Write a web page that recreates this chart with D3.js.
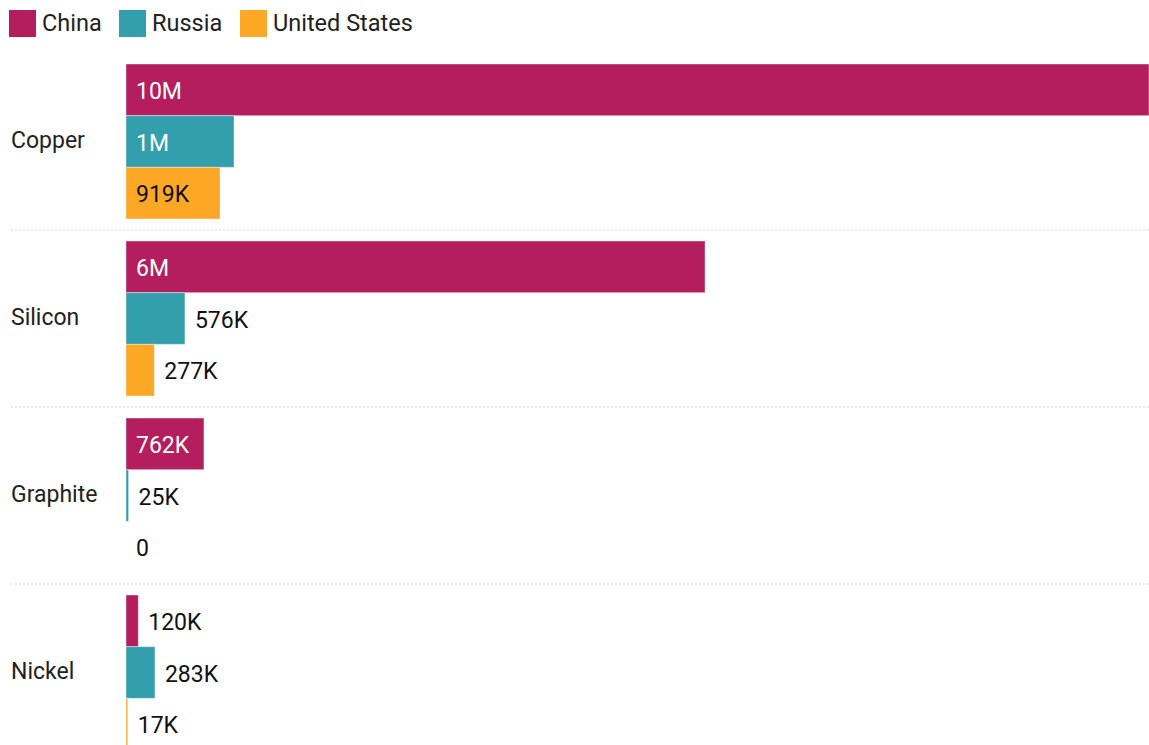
<!DOCTYPE html>
<html>
<head>
<meta charset="utf-8">
<script src="https://cdn.jsdelivr.net/npm/d3@7"></script>
<style>
  body { margin: 0; background: #fff; }
  svg { display: block; font-family: Roboto, "Noto Sans", sans-serif; }
</style>
</head>
<body>
<div id="chart"></div>
<script>
var categories = ["Copper", "Silicon", "Graphite", "Nickel"];
var seriesNames = ["China", "Russia", "United States"];
var chinaValues = [10000000, 5660000, 762000, 120000];
var russiaValues = [1056000, 576000, 25000, 283000];
var usValues = [919000, 277000, 0, 17000];
var colors = ["#b41e5e", "#339eac", "#fca826"];

var width = 1149, height = 745;
var values = [chinaValues, russiaValues, usValues];

var svg = d3.select("#chart").append("svg")
    .attr("width", width)
    .attr("height", height);

// legend
var legendX = [9, 119, 240];
var legend = svg.append("g");
seriesNames.forEach(function(name, i) {
  legend.append("rect")
    .attr("x", legendX[i]).attr("y", 10)
    .attr("width", 27).attr("height", 27)
    .attr("fill", colors[i]);
  legend.append("text")
    .attr("x", legendX[i] + 33).attr("y", 22.5)
    .attr("dominant-baseline", "central")
    .style("font-size", "23.5px")
    .style("fill", "#222")
    .text(name);
});

var x = d3.scaleLinear().domain([0, 10000000]).range([126, 1149]);
var y = d3.scaleBand().domain(categories).range([64, 750]).paddingInner(22 / 177).paddingOuter(0);
var ySub = d3.scaleBand().domain(seriesNames).range([0, y.bandwidth()]);

function fmt(v) {
  if (v >= 1e6) return Math.round(v / 1e6) + "M";
  if (v >= 1e3) return Math.round(v / 1e3) + "K";
  return String(v);
}

// separators
categories.slice(0, -1).forEach(function(c) {
  var sy = y(c) + y.bandwidth() + 11;
  svg.append("line")
    .attr("x1", 11).attr("x2", width)
    .attr("y1", sy).attr("y2", sy)
    .attr("stroke", "#d6d6d6")
    .attr("stroke-width", 1.2)
    .attr("stroke-dasharray", "2,2");
});

categories.forEach(function(c, ci) {
  var g = svg.append("g").attr("transform", "translate(0," + y(c) + ")");

  g.append("text")
    .attr("x", 11).attr("y", y.bandwidth() / 2 - 1)
    .attr("dominant-baseline", "central")
    .style("font-size", "23px")
    .style("fill", "#222")
    .text(c);

  seriesNames.forEach(function(s, si) {
    var v = values[si][ci];
    var w = x(v) - x(0);
    var by = ySub(s);
    g.append("rect")
      .attr("x", x(0)).attr("y", by)
      .attr("width", w).attr("height", ySub.bandwidth())
      .attr("fill", colors[si])
      .attr("stroke", "#fff").attr("stroke-opacity", 0.4).attr("stroke-width", 1);

    var label = fmt(v);
    var inside = w > 70;
    g.append("text")
      .attr("x", inside ? x(0) + 10 : x(v) + 10)
      .attr("y", by + ySub.bandwidth() / 2 + 1.5)
      .attr("dominant-baseline", "central")
      .style("font-size", "23px")
      .style("fill", inside && si != 2 ? "#fff" : "#111")
      .text(label);
  });
});
</script>
</body>
</html>
